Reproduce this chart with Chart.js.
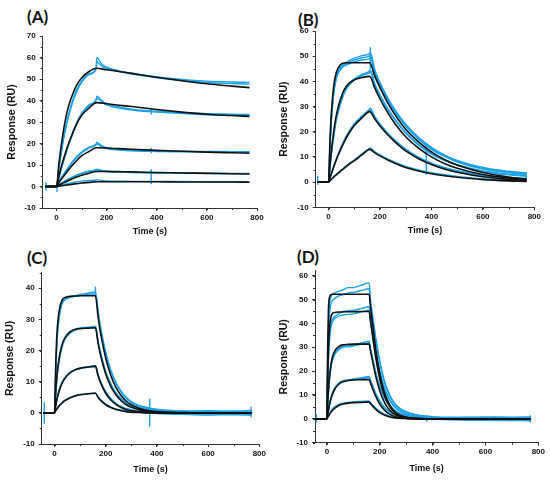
<!DOCTYPE html>
<html>
<head>
<meta charset="utf-8">
<script src="https://cdn.jsdelivr.net/npm/chart.js@4.4.1/dist/chart.umd.min.js"></script>
<style>
  body { margin: 0; width: 550px; height: 481px; background: #fff; position: relative; overflow: hidden; }
  canvas { position: absolute; }
  .tag { position: absolute; font: bold 17px Lato, "Open Sans", sans-serif; line-height: 1; color: #111; }
</style>
</head>
<body>
<div class="tag" style="left:27px;top:8px">(A)</div>
<div class="tag" style="left:298px;top:11px">(B)</div>
<div class="tag" style="left:27px;top:249px">(C)</div>
<div class="tag" style="left:297px;top:248px">(D)</div>
<canvas id="chA"></canvas>
<canvas id="chB"></canvas>
<canvas id="chC"></canvas>
<canvas id="chD"></canvas>
<script>
// ---- tick labels ----
const xTicks  = [0, 200, 400, 600, 800];
const yTicksA = [-10, 0, 10, 20, 30, 40, 50, 60, 70];
const yTicksB = [-10, 0, 10, 20, 30, 40, 50, 60];
const yTicksC = [-10, 0, 10, 20, 30, 40];
const yTicksD = [-10, 0, 10, 20, 30, 40, 50, 60];

// ---- panel A ----
const timeA  = [-45, 0, 10, 20, 30, 45, 60, 80, 100, 130, 160, 200, 250, 300, 400, 500, 600, 700, 770];
const fitA = [
  [0, 0, 11, 20, 27.5, 36, 41.5, 47, 50.5, 53.5, 55, 54.3, 53.5, 52.6, 50.8, 49.2, 47.8, 46.7, 46],
  [0, 0, 5, 9.5, 13.5, 19, 23.5, 29, 33, 36.5, 39, 38.5, 37.8, 37.2, 35.8, 34.6, 33.6, 33, 32.6],
  [0, 0, 1.8, 3.5, 5, 7.3, 9.4, 12, 14.2, 16.3, 18, 17.9, 17.6, 17.3, 16.8, 16.4, 16, 15.7, 15.5],
  [0, 0, 0.6, 1.2, 1.8, 2.6, 3.4, 4.4, 5.2, 6.2, 7, 7, 6.9, 6.8, 6.5, 6.3, 6.1, 5.9, 5.8],
  [0, 0, 0.2, 0.35, 0.5, 0.75, 1, 1.3, 1.6, 1.9, 2.2, 2.2, 2.2, 2.2, 2.2, 2.1, 2.1, 2.1, 2.0]
];
const timeAo = [-45, 0, 10, 20, 30, 45, 60, 80, 100, 130, 158, 161, 180, 200, 250, 300, 400, 500, 600, 700, 770];
const obsA = [
  [0, 0, 9, 17, 24, 32, 38.5, 45, 49, 52.5, 55, 60, 57, 55.5, 53.8, 52.7, 51, 49.8, 49, 48.6, 48.4],
  [0, 0, 8.5, 16, 23, 31, 37.5, 44, 48.3, 52, 54.5, 58, 56, 55, 53.4, 52.3, 50.6, 49.3, 48.4, 47.9, 47.6],
  [0, 0, 4.5, 9, 13, 18.5, 23.5, 29.5, 34, 38, 40.5, 42, 40, 38.5, 37, 36, 35, 34.3, 33.9, 33.6, 33.5],
  [0, 0, 4, 8.5, 12.5, 18, 23, 29, 33.5, 37.5, 40, 41, 39.5, 38, 36.5, 35.6, 34.6, 33.9, 33.4, 33.1, 33],
  [0, 0, 2.2, 4.2, 6, 8.5, 11, 13.8, 16, 18.3, 19.8, 20.5, 19, 18, 17.3, 17, 16.6, 16.4, 16.3, 16.2, 16.2],
  [0, 0, 2, 4, 5.8, 8.2, 10.6, 13.4, 15.6, 17.9, 19.3, 19.8, 18.5, 17.6, 17, 16.6, 16.3, 16.1, 16, 15.9, 15.9],
  [0, 0, 0.8, 1.6, 2.3, 3.3, 4.2, 5.3, 6.2, 7.2, 7.8, 8, 7.5, 7.1, 6.8, 6.6, 6.4, 6.3, 6.2, 6.1, 6.1],
  [0, 0, 0.7, 1.5, 2.2, 3.1, 4, 5.1, 6, 7, 7.6, 7.8, 7.3, 7, 6.7, 6.5, 6.3, 6.2, 6.1, 6, 6],
  [0, 0, 0.3, 0.6, 0.9, 1.3, 1.7, 2.1, 2.5, 2.8, 3, 3.2, 2.8, 2.6, 2.5, 2.4, 2.3, 2.3, 2.2, 2.2, 2.2]
];
const spikesA = [[-42, -2, 2], [2, -2.5, 0.5], [378, 33.5, 36.5], [378, 15.5, 18], [378, 1, 8]];

// ---- panel B ----
const timeB  = [-45, 0, 5, 10, 20, 30, 45, 60, 80, 100, 130, 160, 180, 200, 230, 260, 300, 350, 400, 450, 500, 600, 700, 770];
const fitB = [
  [0, 0, 15, 26, 38, 43.5, 46.5, 47.3, 47.4, 47.4, 47.4, 47.4, 42, 37.5, 31.5, 26.5, 21, 16, 12, 9, 6.8, 3.8, 2, 1.2],
  [0, 0, 6, 11.5, 20, 26.5, 32.5, 36.5, 39.3, 40.6, 41.5, 42, 37.3, 33, 27.6, 23, 18, 13.5, 10, 7.4, 5.5, 3, 1.6, 1],
  [0, 0, 1.5, 3, 6, 8.8, 12.5, 15.8, 19.5, 22.5, 25.5, 28, 25, 22.3, 18.8, 15.8, 12.4, 9.3, 7, 5.2, 3.9, 2.1, 1.1, 0.7],
  [0, 0, 0.5, 1, 2, 2.9, 4.2, 5.5, 7.1, 8.5, 10.8, 13, 11.6, 10.4, 8.8, 7.4, 5.8, 4.4, 3.3, 2.5, 1.9, 1, 0.5, 0.3]
];
const timeBo = [-45, 0, 5, 10, 20, 30, 45, 60, 80, 100, 130, 158, 162, 180, 200, 230, 260, 300, 350, 400, 450, 500, 600, 700, 770];
const obsB = [
  [0, 0, 13, 24, 36, 42, 45.5, 47, 48.2, 49.2, 50.2, 51, 51.5, 44.5, 39.5, 33.5, 28.5, 23, 17.8, 13.8, 10.8, 8.6, 5.8, 4.3, 3.6],
  [0, 0, 12.5, 23.5, 35.5, 41.5, 45, 46.5, 47.6, 48.5, 49.4, 50, 50.5, 44, 39, 33, 28, 22.6, 17.4, 13.4, 10.5, 8.3, 5.5, 4, 3.2],
  [0, 0, 12, 23, 35, 41, 44.5, 46, 47, 47.8, 48.5, 49, 49.5, 43.2, 38.3, 32.4, 27.5, 22.2, 17, 13, 10.2, 8, 5.2, 3.7, 3],
  [0, 0, 5.5, 10.5, 18.5, 25, 31, 35.5, 39, 41, 42.8, 44, 44.5, 39, 34.7, 29.3, 24.8, 19.8, 15, 11.4, 8.8, 6.9, 4.4, 3.1, 2.6],
  [0, 0, 5.3, 10.2, 18, 24.5, 30.5, 35, 38.5, 40.5, 42.3, 43.4, 43.8, 38.5, 34.2, 28.8, 24.4, 19.4, 14.7, 11.1, 8.6, 6.7, 4.2, 2.9, 2.4],
  [0, 0, 1.6, 3.2, 6.3, 9.2, 13, 16.5, 20.2, 23.2, 26.3, 28.8, 29.3, 26, 23.1, 19.5, 16.5, 13.1, 9.9, 7.5, 5.8, 4.5, 2.7, 1.8, 1.5],
  [0, 0, 1.5, 3.1, 6.1, 9, 12.7, 16.2, 19.8, 22.8, 25.9, 28.3, 28.7, 25.5, 22.6, 19.1, 16.1, 12.8, 9.7, 7.3, 5.6, 4.3, 2.6, 1.7, 1.4],
  [0, 0, 0.5, 1, 2.1, 3, 4.4, 5.7, 7.4, 8.8, 11.2, 13.3, 13.6, 12, 10.8, 9.2, 7.8, 6.2, 4.8, 3.7, 2.9, 2.3, 1.4, 1, 0.8]
];
const spikesB = [[-42, -1, 2.5], [162, 45, 53.5], [380, 3, 15.5], [768, 0, 4]];

// ---- panel C ----
const timeC = [-45, 0, 5, 10, 20, 30, 40, 60, 80, 100, 130, 160, 170, 180, 200, 220, 240, 260, 280, 300, 330, 370, 400, 500, 600, 700, 770];
const fitC = [
  [0, 0, 16, 26, 33.5, 36.2, 37, 37.4, 37.5, 37.6, 37.6, 37.6, 31, 25.6, 17.6, 12, 8.2, 5.6, 3.8, 2.6, 1.5, 0.7, 0.4, 0.1, 0, 0, 0],
  [0, 0, 7, 12.5, 18.5, 22, 24, 26, 26.8, 27.1, 27.2, 27.3, 22.5, 18.5, 12.5, 8.5, 5.8, 3.9, 2.6, 1.8, 1, 0.4, 0.2, 0, 0, 0, 0],
  [0, 0, 2.5, 4.5, 7.5, 9.5, 11, 12.8, 13.8, 14.3, 14.7, 15, 12, 9.7, 6.3, 4.1, 2.7, 1.7, 1.1, 0.7, 0.4, 0.1, 0, 0, 0, 0, 0],
  [0, 0, 0.7, 1.3, 2.4, 3.2, 3.9, 4.8, 5.4, 5.8, 6.1, 6.3, 5, 4, 2.6, 1.7, 1.1, 0.7, 0.4, 0.2, 0.1, 0, 0, 0, 0, 0, 0]
];
const obsC = [
  [0, 0, 14, 24, 32, 35.5, 36.5, 37.2, 37.6, 38, 38.4, 38.8, 33, 27.5, 19.5, 13.8, 9.8, 7, 5, 3.6, 2.4, 1.6, 1.2, 0.6, 0.4, 0.3, 0.3],
  [0, 0, 13, 23, 31.5, 35, 36.3, 37, 37.4, 37.7, 38, 38.2, 32.5, 27, 19, 13.4, 9.5, 6.7, 4.7, 3.3, 2.1, 1.3, 0.9, 0.4, 0.2, -0.3, -0.5],
  [0, 0, 6.5, 12, 18, 21.5, 23.8, 25.8, 26.8, 27.2, 27.5, 27.8, 23.2, 19.3, 13.3, 9.3, 6.5, 4.6, 3.3, 2.4, 1.6, 1, 0.7, 0.3, 0.2, 0.2, 0.2],
  [0, 0, 6.2, 11.6, 17.6, 21.2, 23.5, 25.5, 26.6, 27, 27.3, 27.5, 22.8, 19, 13, 9, 6.2, 4.3, 3, 2.1, 1.3, 0.7, 0.4, -0.2, -0.4, -0.5, -0.6],
  [0, 0, 2.5, 4.8, 8, 10, 11.3, 13, 13.9, 14.4, 14.8, 15.1, 12.4, 10.1, 6.8, 4.6, 3.1, 2.1, 1.4, 1, 0.6, 0.3, 0.2, 0.1, 0, 0.1, 0],
  [0, 0, 2.3, 4.5, 7.6, 9.7, 11, 12.8, 13.7, 14.2, 14.6, 14.9, 12.1, 9.8, 6.5, 4.3, 2.8, 1.8, 1.1, 0.7, 0.3, 0, -0.2, -0.5, -0.7, -0.6, -0.7],
  [0, 0, 0.8, 1.4, 2.5, 3.3, 4, 4.9, 5.5, 5.9, 6.2, 6.4, 5.2, 4.2, 2.8, 1.9, 1.3, 0.9, 0.6, 0.4, 0.2, 0.1, 0, 0.5, 0.7, 0.6, 0.8]
];
const spikesC = [[-40, -3.5, 3.5], [160, 37, 40.5], [372, -4.5, 4.5], [768, -1.5, 2]];

// ---- panel D ----
const timeD = [-45, 0, 3, 6, 10, 15, 20, 30, 45, 60, 80, 100, 130, 160, 165, 175, 185, 200, 215, 230, 250, 270, 300, 350, 400, 500, 600, 700, 770];
const fitD = [
  [0, 0, 30, 46, 51, 52, 52.2, 52.2, 52.2, 52.2, 52.2, 52.2, 52.2, 52.2, 47, 38, 29, 19, 12, 7.5, 3.8, 1.9, 0.7, 0.1, 0, 0, 0, 0, 0],
  [0, 0, 18, 30, 38, 42.5, 44, 44.6, 44.8, 44.8, 44.9, 44.9, 45, 45, 41, 33, 25.5, 16.8, 10.7, 6.7, 3.4, 1.7, 0.6, 0.1, 0, 0, 0, 0, 0],
  [0, 0, 7, 12.5, 18, 22.5, 25.5, 28.5, 30.3, 31, 31.2, 31.3, 31.3, 31.3, 28.5, 23, 17.8, 11.8, 7.5, 4.7, 2.4, 1.2, 0.4, 0.1, 0, 0, 0, 0, 0],
  [0, 0, 2, 3.8, 6, 8.3, 10, 12.5, 14.5, 15.5, 16.1, 16.3, 16.4, 16.5, 15, 12, 9.4, 6.2, 4, 2.5, 1.3, 0.6, 0.2, 0, 0, 0, 0, 0, 0],
  [0, 0, 0.6, 1.2, 1.9, 2.7, 3.4, 4.5, 5.6, 6.2, 6.6, 6.8, 6.9, 7, 6.3, 5.1, 4, 2.6, 1.7, 1.1, 0.5, 0.25, 0.1, 0, 0, 0, 0, 0, 0]
];
const obsD = [
  [0, 0, 25, 40, 48, 51, 52, 52.8, 53.5, 54, 55, 55, 56, 57, 50, 42, 34, 24.5, 17, 12, 7.5, 5, 3, 1.5, 0.9, 0.6, 0.5, 0.5, 0.5],
  [0, 0, 20, 35, 44, 48, 49.5, 50.5, 51.5, 52, 52.8, 53, 53.8, 54.5, 48, 40, 32.5, 23.5, 16.3, 11.5, 7.2, 4.7, 2.8, 1.3, 0.7, 0.3, 0.2, 0.1, 0.1],
  [0, 0, 15, 27, 35, 39.5, 41.5, 43, 44, 45, 45.3, 45.5, 46.2, 47, 42.5, 35, 28, 20, 14, 9.8, 6, 3.9, 2.2, 1, 0.5, 0.2, -0.3, -0.4, -0.5],
  [0, 0, 14, 25, 33, 38, 40.5, 42, 43, 43.5, 43.8, 44, 44.8, 45.5, 41, 33.8, 27, 19.2, 13.4, 9.3, 5.7, 3.6, 2, 0.8, 0.3, -0.2, -0.6, -0.7, -0.8],
  [0, 0, 6, 11.5, 17, 21.5, 24.5, 27.5, 29.5, 30.5, 30.5, 31, 31.8, 32.5, 29.5, 24.5, 19.5, 13.8, 9.6, 6.8, 4.2, 2.7, 1.5, 0.6, 0.3, 0.6, 0.8, 0.7, 0.8],
  [0, 0, 5.6, 11, 16.5, 21, 24, 27, 29, 30, 30.2, 30.5, 31.2, 31.8, 28.8, 24, 19, 13.4, 9.3, 6.5, 4, 2.5, 1.3, 0.4, 0, -0.4, -0.6, -0.5, -0.7],
  [0, 0, 2, 3.8, 6.2, 8.7, 10.5, 13, 15, 16, 16.3, 16.7, 17.2, 17.8, 16.2, 13.3, 10.6, 7.5, 5.2, 3.7, 2.3, 1.5, 0.8, 0.3, 0.1, 0, 0.3, 0.2, 0.4],
  [0, 0, 1.8, 3.6, 5.9, 8.4, 10.2, 12.7, 14.7, 15.7, 16, 16.4, 16.8, 17.3, 15.8, 13, 10.3, 7.2, 5, 3.5, 2.1, 1.3, 0.7, 0.2, -0.1, -0.4, -0.5, -0.6, -0.6],
  [0, 0, 0.8, 1.5, 2.3, 3.2, 4, 5.1, 6.1, 6.6, 6.9, 7.1, 7.3, 7.5, 6.8, 5.6, 4.5, 3.1, 2.1, 1.4, 0.8, 0.5, 0.3, 0.1, 0, -0.2, -0.1, -0.2, -0.1]
];
const spikesD = [[-40, -1.5, 2], [378, -1.2, 1.5], [770, -1.5, 1.5]];

const BLUE = "#1ba1e6";
const BLACK = "#111";
const FONT = '"Liberation Sans", Arial, sans-serif';

// ticks pequenos entre os principais
const minorTicks = {
  id: "minorTicks",
  afterDraw(chart, args, opts) {
    const ctx = chart.ctx, sx = chart.scales.x, sy = chart.scales.y;
    ctx.save();
    ctx.strokeStyle = "#333";
    ctx.lineWidth = 1;
    ctx.beginPath();
    for (let v = Math.ceil(sx.min / opts.x) * opts.x; v <= sx.max; v += opts.x) {
      const px = Math.round(sx.getPixelForValue(v)) + 0.5;
      ctx.moveTo(px, sy.bottom);
      ctx.lineTo(px, sy.bottom + 2);
    }
    for (let v = Math.ceil(sy.min / opts.y) * opts.y; v <= sy.max; v += opts.y) {
      const py = Math.round(sy.getPixelForValue(v)) + 0.5;
      ctx.moveTo(sx.left, py);
      ctx.lineTo(sx.left - 2, py);
    }
    ctx.stroke();
    ctx.restore();
  }
};

function line(times, vals, color, width) {
  return {
    data: times.map((t, i) => ({ x: t, y: vals[i] })),
    borderColor: color,
    borderWidth: width,
    pointRadius: 0,
    fill: false,
    cubicInterpolationMode: "monotone"
  };
}

function spike(s) {
  return {
    data: [{ x: s[0], y: s[1] }, { x: s[0], y: s[2] }],
    borderColor: BLUE,
    borderWidth: 1.4,
    pointRadius: 0
  };
}

function panel(p) {
  const canvas = document.getElementById(p.id);
  canvas.width = p.box[2];
  canvas.height = p.box[3];
  canvas.style.left = p.box[0] + "px";
  canvas.style.top = p.box[1] + "px";

  // fits pretos por cima (primeiro dataset = desenhado por último)
  const datasets = [];
  p.fits.forEach(v => datasets.push(line(p.tFit, v, BLACK, 1.6)));
  p.obs.forEach(v => datasets.push(line(p.tObs, v, BLUE, 1.4)));
  p.spikes.forEach(s => datasets.push(spike(s)));

  const yAxisW = p.area[0] - p.box[0];
  const xAxisH = p.box[1] + p.box[3] - p.area[3];

  new Chart(canvas, {
    type: "line",
    data: { datasets },
    options: {
      responsive: false,
      animation: false,
      events: [],
      layout: { padding: { top: p.area[1] - p.box[1], right: p.box[0] + p.box[2] - p.area[2], left: 0, bottom: 0 } },
      plugins: { legend: { display: false }, tooltip: { enabled: false }, minorTicks: { x: 100, y: 5 } },
      scales: {
        x: {
          type: "linear",
          min: p.xMin,
          max: 800,
          afterBuildTicks: s => { s.ticks = xTicks.map(v => ({ value: v })); },
          afterFit: s => { s.height = xAxisH; },
          ticks: { maxRotation: 0, autoSkip: false, padding: 1.5, color: "#111", font: { family: FONT, size: 8, weight: "bold" } },
          grid: { drawOnChartArea: false, tickLength: 3, color: "#333" },
          border: { color: "#333", width: 1 },
          title: { display: true, text: "Time (s)", color: "#111", font: { family: FONT, size: 9, weight: "bold" }, padding: { top: 0, bottom: p.xTitlePad } }
        },
        y: {
          min: -10,
          max: p.yMax,
          afterBuildTicks: s => { s.ticks = p.yTicks.map(v => ({ value: v })); },
          afterFit: s => { s.width = yAxisW; },
          ticks: { autoSkip: false, padding: 4, color: "#111", font: { family: FONT, size: 8, weight: "bold" } },
          grid: { drawOnChartArea: false, tickLength: 3, color: "#333" },
          border: { color: "#333", width: 1 },
          title: { display: true, text: "Response (RU)", color: "#111", font: { family: FONT, size: 10.5, weight: "bold" }, padding: { top: p.yTitlePad, bottom: 0 } }
        }
      }
    },
    plugins: [minorTicks]
  });
}

panel({ id: "chA", box: [0, 26, 272, 214], area: [42.7, 36, 257, 208], xMin: -55, yMax: 70, yTicks: yTicksA,
  tFit: timeA, tObs: timeAo, fits: fitA, obs: obsA, spikes: spikesA, yTitlePad: 5.7, xTitlePad: 2.6 });
panel({ id: "chB", box: [275, 21, 275, 219], area: [315.7, 31, 534.3, 207.3], xMin: -50, yMax: 60, yTicks: yTicksB,
  tFit: timeB, tObs: timeBo, fits: fitB, obs: obsB, spikes: spikesB, yTitlePad: 2.7, xTitlePad: 3.6 });
panel({ id: "chC", box: [0, 262, 272, 219], area: [41.7, 272.7, 259.3, 444], xMin: -50, yMax: 45, yTicks: yTicksC,
  tFit: timeC, tObs: timeC, fits: fitC, obs: obsC, spikes: spikesC, yTitlePad: 3.7, xTitlePad: 6.3 });
panel({ id: "chD", box: [275, 260, 275, 221], area: [315, 270.9, 538.3, 442.7], xMin: -45, yMax: 62, yTicks: yTicksD,
  tFit: timeD, tObs: timeD, fits: fitD, obs: obsD, spikes: spikesD, yTitlePad: 2.7, xTitlePad: 6.9 });
</script>
</body>
</html>
